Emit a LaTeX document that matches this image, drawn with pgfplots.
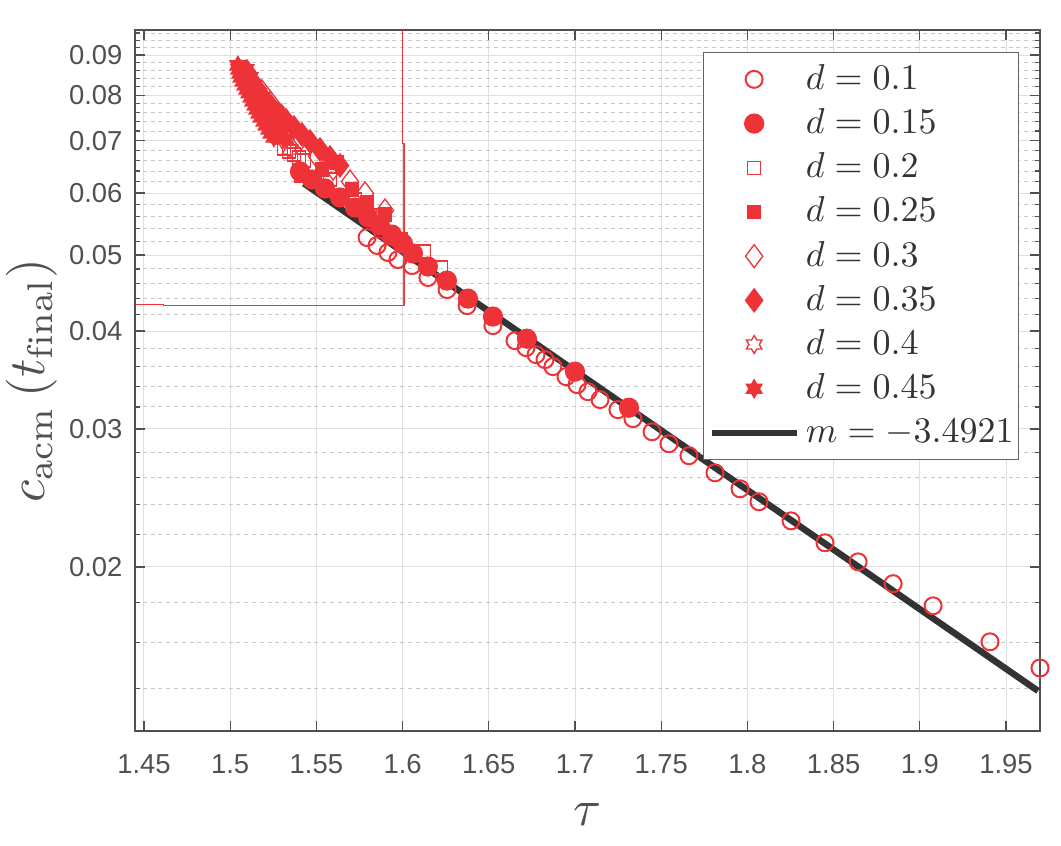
\RequirePackage{fix-cm}
\documentclass[border=0pt]{standalone}
\usepackage{fontspec}
\usepackage{graphicx}
\newfontfamily\helv{Liberation Sans}
\usepackage{pgfplots}
\pgfplotsset{compat=1.18}
\definecolor{myred}{RGB}{237,50,56}
\definecolor{fitc}{RGB}{51,51,51}
\definecolor{axc}{RGB}{80,80,80}
\definecolor{legc}{RGB}{100,100,100}
\definecolor{gridmaj}{RGB}{223,223,223}
\definecolor{gridmin}{RGB}{200,200,200}
\pgfdeclareplotmark{hexagram}{%
 \pgfpathmoveto{\pgfpointpolar{90}{\pgfplotmarksize}}%
 \pgfpathlineto{\pgfpointpolar{120}{0.577\pgfplotmarksize}}%
 \pgfpathlineto{\pgfpointpolar{150}{\pgfplotmarksize}}%
 \pgfpathlineto{\pgfpointpolar{180}{0.577\pgfplotmarksize}}%
 \pgfpathlineto{\pgfpointpolar{210}{\pgfplotmarksize}}%
 \pgfpathlineto{\pgfpointpolar{240}{0.577\pgfplotmarksize}}%
 \pgfpathlineto{\pgfpointpolar{270}{\pgfplotmarksize}}%
 \pgfpathlineto{\pgfpointpolar{300}{0.577\pgfplotmarksize}}%
 \pgfpathlineto{\pgfpointpolar{330}{\pgfplotmarksize}}%
 \pgfpathlineto{\pgfpointpolar{0}{0.577\pgfplotmarksize}}%
 \pgfpathlineto{\pgfpointpolar{30}{\pgfplotmarksize}}%
 \pgfpathlineto{\pgfpointpolar{60}{0.577\pgfplotmarksize}}%
 \pgfpathclose\pgfusepathqfillstroke}
\pgfdeclareplotmark{hexagramo}{%
 \pgfpathmoveto{\pgfpointpolar{90}{\pgfplotmarksize}}%
 \pgfpathlineto{\pgfpointpolar{120}{0.577\pgfplotmarksize}}%
 \pgfpathlineto{\pgfpointpolar{150}{\pgfplotmarksize}}%
 \pgfpathlineto{\pgfpointpolar{180}{0.577\pgfplotmarksize}}%
 \pgfpathlineto{\pgfpointpolar{210}{\pgfplotmarksize}}%
 \pgfpathlineto{\pgfpointpolar{240}{0.577\pgfplotmarksize}}%
 \pgfpathlineto{\pgfpointpolar{270}{\pgfplotmarksize}}%
 \pgfpathlineto{\pgfpointpolar{300}{0.577\pgfplotmarksize}}%
 \pgfpathlineto{\pgfpointpolar{330}{\pgfplotmarksize}}%
 \pgfpathlineto{\pgfpointpolar{0}{0.577\pgfplotmarksize}}%
 \pgfpathlineto{\pgfpointpolar{30}{\pgfplotmarksize}}%
 \pgfpathlineto{\pgfpointpolar{60}{0.577\pgfplotmarksize}}%
 \pgfpathclose\pgfusepathqstroke}
\pgfplotsset{lg/.style={legend image code/.code={\draw[mark repeat=2,mark phase=2,##1] plot coordinates {(0bp,0bp) (21.25bp,0bp) (42.5bp,0bp)};}}}
\newcommand{\lgt}[1]{\scalebox{1.8}{$#1$}}
\begin{document}
\begin{tikzpicture}
\useasboundingbox (-67.5bp,-57.5bp) rectangle (463bp,365.5bp);
\begin{axis}[
 at={(0,0)}, anchor=south west,
 scale only axis, width=452.5bp, height=350.5bp,
 xmin=1.4448, xmax=1.9697, ymin=0.012348, ymax=0.09687,
 ymode=log,
 xtick={1.45,1.5,1.55,1.6,1.65,1.7,1.75,1.8,1.85,1.9,1.95},
 xticklabels={1.45,1.5,1.55,1.6,1.65,1.7,1.75,1.8,1.85,1.9,1.95},
 ytick={0.02,0.03,0.04,0.05,0.06,0.07,0.08,0.09},
 yticklabels={0.02,0.03,0.04,0.05,0.06,0.07,0.08,0.09},
 minor ytick={0.014,0.016,0.018,0.022,0.024,0.026,0.028,0.032,0.034,0.036,0.038,0.042,0.044,0.046,0.048,0.052,0.054,0.056,0.058,0.062,0.064,0.066,0.068,0.072,0.074,0.076,0.078,0.082,0.084,0.086,0.088,0.092,0.094,0.096},
 xmajorgrids, ymajorgrids, yminorgrids,
 major grid style={gridmaj, line width=0.5bp},
 minor grid style={gridmin, line width=0.5bp, dash pattern=on 2bp off 1.9bp},
 tick align=inside,
 major tick length=5bp, minor tick length=2.5bp,
 axis line style={axc, line width=0.6bp},
 every tick/.style={axc, line width=0.6bp},
 tick label style={font=\helv\fontsize{13.7bp}{16bp}\selectfont, text=axc, inner sep=0pt},
 xticklabel style={yshift=-11.5bp},
 yticklabel style={xshift=-6.1bp},
 xlabel={\scalebox{2.55}{$\tau$}},
 ylabel={\scalebox{2.55}{$c_{\mathrm{acm}}\left(t_{\mathrm{final}}\right)$}},
 label style={font=\fontsize{10bp}{12bp}\selectfont, text=axc},
 xlabel style={at={(axis description cs:0.5,-0.1341)}, anchor=base},
 ylabel style={at={(axis description cs:-0.09945,0.5)}, anchor=base},
 legend cell align=left,
 legend style={at={(0.9768,0.968)}, anchor=north east, draw=legc, line width=0.5bp, fill=white,
   font=\fontsize{10bp}{12bp}\selectfont, text=fitc, inner xsep=2.5bp, inner ysep=4.2bp,
   row sep=4.1bp, column sep=3bp, nodes={inner sep=0pt, text height=14bp, text depth=4bp}},
]
% red step line and grey line
\addplot[myred, line width=0.5bp, forget plot] coordinates {(1.4455,0.04320) (1.4612,0.04320) (1.4612,0.04307) (1.6010,0.04307) (1.6010,0.06942) (1.6000,0.06942) (1.6000,0.0969)};
\addplot[gray, line width=0.5bp, forget plot] coordinates {(1.6004,0.06942) (1.6004,0.04307)};
% d = 0.1
\addplot[myred, only marks, mark=o, mark size=4.25bp, line width=1bp, lg] coordinates {
(1.5794,0.05265) (1.5852,0.05143) (1.5915,0.05038) (1.5973,0.04935) (1.6055,0.04848) (1.6147,0.04681) (1.6258,0.04518) (1.6374,0.04310) (1.6524,0.04064) (1.6652,0.03889) (1.6716,0.03810) (1.6774,0.03732) (1.6826,0.03678) (1.6872,0.03603) (1.6948,0.03498) (1.7012,0.03417) (1.7075,0.03347) (1.7145,0.03270) (1.7249,0.03175) (1.7336,0.03092) (1.7447,0.02975) (1.7545,0.02872) (1.7661,0.02773) (1.7812,0.02637) (1.7957,0.02516) (1.8067,0.02422) (1.8253,0.02290) (1.8450,0.02147) (1.8642,0.02030) (1.8845,0.01904) (1.9077,0.01784) (1.9407,0.01605) (1.9697,0.01486)};
\addlegendentry{\lgt{d=0.1}}
% d = 0.15
\addplot[myred, only marks, mark=*, mark size=4.75bp, line width=0.6bp, lg] coordinates {
(1.5405,0.06392) (1.5475,0.06244) (1.5550,0.06081) (1.5637,0.05922) (1.5724,0.05750) (1.5800,0.05583) (1.5869,0.05454) (1.5938,0.05311) (1.6002,0.05173) (1.6060,0.05023) (1.6147,0.04835) (1.6257,0.04639) (1.6379,0.04400) (1.6524,0.04174) (1.6721,0.03912) (1.7000,0.03550) (1.7313,0.03193)};
\addlegendentry{\lgt{d=0.15}}
% d = 0.2
\addplot[myred, only marks, mark=square, mark size=3.25bp, line width=0.65bp, lg] coordinates {
(1.5312,0.06840) (1.5341,0.06780) (1.5370,0.06721) (1.5399,0.06662) (1.5428,0.06603) (1.5579,0.06244) (1.5724,0.05887) (1.5846,0.05616) (1.5991,0.05234) (1.6124,0.05052) (1.6222,0.04820)};
\addlegendentry{\lgt{d=0.2}}
% d = 0.25
\addplot[myred, only marks, mark=square*, mark size=3.25bp, line width=0.65bp, lg] coordinates {
(1.5411,0.06318) (1.5532,0.06430) (1.5620,0.06564) (1.5707,0.06063) (1.5794,0.05835) (1.5898,0.05633)};
\addlegendentry{\lgt{d=0.25}}
% d = 0.3
\addplot[myred, only marks, mark=diamond, mark size=5.75bp, line width=0.65bp, lg] coordinates {
(1.5184,0.08088) (1.5237,0.07808) (1.5295,0.07538) (1.5353,0.07276) (1.5411,0.07045) (1.5504,0.06682) (1.5597,0.06449) (1.5695,0.06207) (1.5782,0.05993) (1.5898,0.05700)};
\addlegendentry{\lgt{d=0.3}}
% d = 0.35
\addplot[myred, only marks, mark=diamond*, mark size=5.75bp, line width=0.65bp, lg] coordinates {
(1.5097,0.08578) (1.5126,0.08354) (1.5161,0.08136) (1.5196,0.07924) (1.5237,0.07739) (1.5277,0.07582) (1.5300,0.07500) (1.5324,0.07427) (1.5370,0.07276) (1.5416,0.07128) (1.5463,0.06983) (1.5521,0.06820) (1.5579,0.06661) (1.5637,0.06507)};
\addlegendentry{\lgt{d=0.35}}
% d = 0.4
\addplot[myred, only marks, mark=hexagramo, mark size=4.5bp, line width=0.65bp, lg] coordinates {
(1.5063,0.08629) (1.5092,0.08379) (1.5121,0.08136) (1.5150,0.07901) (1.5184,0.07672) (1.5219,0.07449) (1.5260,0.07233) (1.5300,0.07024) (1.5347,0.06820)};
\addlegendentry{\lgt{d=0.4}}
% d = 0.45
\addplot[myred, only marks, mark=hexagram, mark size=4.5bp, line width=0.65bp, lg] coordinates {
(1.5045,0.08731) (1.5051,0.08629) (1.5057,0.08528) (1.5063,0.08428) (1.5074,0.08330) (1.5086,0.08233) (1.5097,0.08136) (1.5109,0.08042) (1.5121,0.07948) (1.5132,0.07855) (1.5144,0.07762) (1.5155,0.07672) (1.5167,0.07582) (1.5179,0.07493) (1.5196,0.07405) (1.5208,0.07318) (1.5225,0.07233) (1.5237,0.07149) (1.5254,0.07065)
(1.5092,0.08629) (1.5115,0.08428) (1.5138,0.08233) (1.5161,0.08042) (1.5184,0.07855) (1.5208,0.07672) (1.5237,0.07493) (1.5266,0.07318) (1.5295,0.07170) (1.5324,0.07024)};
\addlegendentry{\lgt{d=0.45}}
% fit
\addplot[fitc, line width=3.25bp, lg] coordinates {(1.5428,0.06171) (1.96856,0.013893)};
\addlegendentry{\lgt{m=-3.4921}}
\end{axis}
\end{tikzpicture}
\end{document}
